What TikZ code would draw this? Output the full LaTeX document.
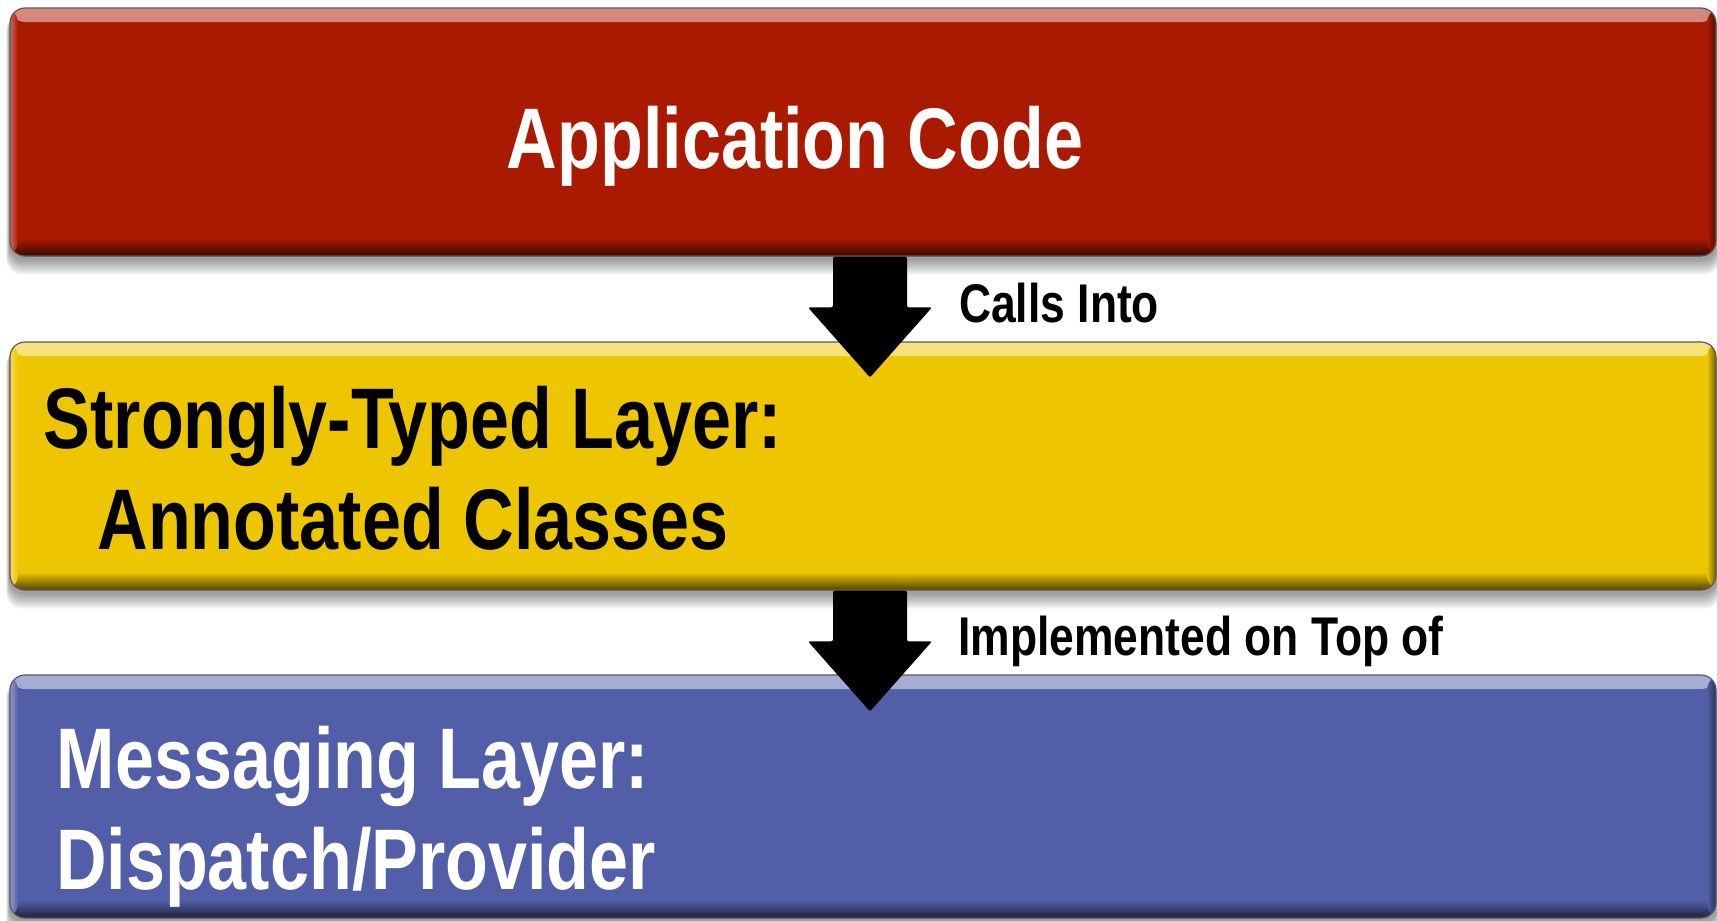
\documentclass[tikz,border=0pt]{standalone}
\usepackage{fontspec}
\newfontfamily\condbold{Liberation Sans}[FakeStretch=0.815]
\usetikzlibrary{calc,backgrounds}
\definecolor{appred}{RGB}{170,26,0}
\definecolor{typedyellow}{RGB}{237,197,0}
\definecolor{msgblue}{RGB}{82,95,168}
\tikzset{
  layerbox/.style={rounded corners=15pt, draw=black!65, line width=1.2pt, fill=#1,
    minimum width=1706pt, inner sep=0pt,
    path picture={
      \shade[top color=#1!50!white, bottom color=#1]
        (path picture bounding box.north west) rectangle ($(path picture bounding box.north east)+(0,14)$);
      \shade[top color=#1, bottom color=#1!35!black]
        ($(path picture bounding box.south west)+(0,-18)$) rectangle (path picture bounding box.south east);
      \shade[left color=#1!65!white, right color=#1]
        (path picture bounding box.north west) rectangle ($(path picture bounding box.south west)+(8,0)$);
      \shade[left color=#1, right color=#1!50!black]
        ($(path picture bounding box.north east)+(-9,0)$) rectangle (path picture bounding box.south east);
    }},
  bigtext/.style={font=\condbold\bfseries\fontsize{86}{100}\selectfont, anchor=base, inner sep=0pt},
  smalltext/.style={font=\condbold\bfseries\fontsize{54.5}{60}\selectfont, anchor=base west, inner sep=0pt},
  arrowfill/.style={fill=black, rounded corners=2pt}
}
\newcommand\layershadow[1]{%
  \foreach \k in {1,...,10}{%
    \fill[black, opacity=0.045, rounded corners=15pt]
      ($(#1.north west)+(-0.3*\k,8)$) rectangle ($(#1.south east)+(0.3*\k,2+1.6*\k)$);}}
\newcommand\blockarrow[2]{%
  \fill[arrowfill] let \p1=(#1), \p2=(#2) in
    (\x1-37pt,\y1) -- (\x1-37pt,\y2+70pt) -- (\x1-62pt,\y2+70pt) -- (\x2,\y2)
    -- (\x1+62pt,\y2+70pt) -- (\x1+37pt,\y2+70pt) -- (\x1+37pt,\y1) -- cycle;}
\begin{document}
\begin{tikzpicture}[x=1pt, y=-1pt]
\useasboundingbox (0,0) rectangle (1717,921);
\node[layerbox=appred, minimum height=248pt] (app) at (863,132) {};
\node[layerbox=typedyellow, minimum height=248pt] (typed) at (863,466) {};
\node[layerbox=msgblue, minimum height=243pt] (msg) at (863,796.5) {};
\begin{pgfonlayer}{background}
  \fill[white] (0,0) rectangle (1717,921);
  \layershadow{app}
  \layershadow{typed}
  \layershadow{msg}
\end{pgfonlayer}
\node[bigtext, text=white] (appt) at (795,168) {Application Code};
\node[bigtext] (typed1) at (413,448) {Strongly-Typed Layer:};
\node[bigtext] (typed2) at (413,549) {Annotated Classes};
\node[bigtext, text=white] (msg1) at (353,788) {Messaging Layer:};
\node[bigtext, text=white] (msg2) at (356,889) {Dispatch/Provider};
\node[smalltext] (lab1) at (959,322) {Calls Into};
\node[smalltext] (lab2) at (958,655) {Implemented on Top of};
\coordinate (ax) at (870,0);
\blockarrow{app.south -| ax}{$(typed.north -| ax)+(0,36)$}
\blockarrow{typed.south -| ax}{$(msg.north -| ax)+(0,37)$}
\end{tikzpicture}
\end{document}
